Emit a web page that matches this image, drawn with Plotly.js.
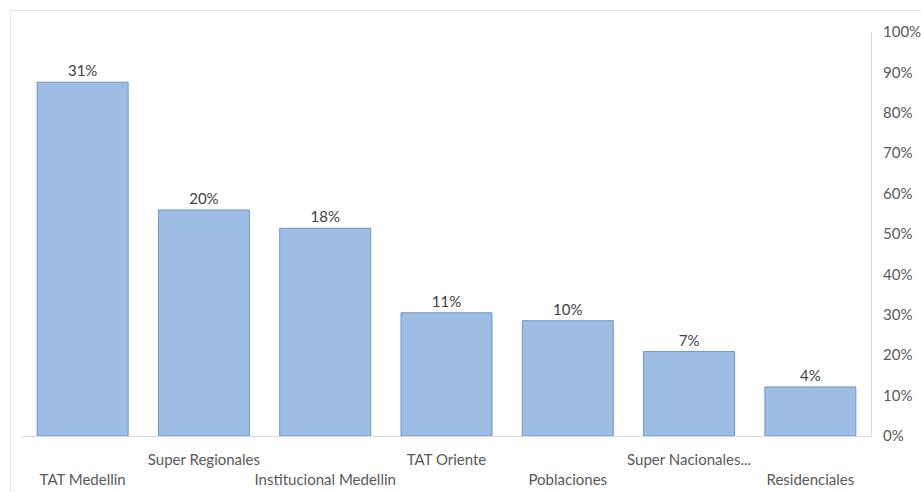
<!DOCTYPE html>
<html>
<head>
<meta charset="utf-8">
<script src="https://cdn.plot.ly/plotly-3.0.1.min.js"></script>
<style>
  html, body { margin: 0; padding: 0; background: #ffffff; }
  #wrap { position: relative; width: 921px; height: 492px; overflow: hidden; }
  #frame { position: absolute; left: 10px; top: 10px; width: 1000px; height: 600px;
           border-top: 1px solid #e3e3e3; border-left: 1px solid #e3e3e3; }
  #chart { position: absolute; left: 0; top: 0; width: 921px; height: 492px; }
</style>
</head>
<body>
<div id="wrap">
  <div id="frame"></div>
  <div id="chart"></div>
</div>
<script>
const categories = ["TAT Medellin", "Super Regionales", "Institucional Medellin", "TAT Oriente", "Poblaciones", "Super Nacionales...", "Residenciales"];
const shares = [0.310, 0.198, 0.182, 0.108, 0.101, 0.074, 0.043];
const rightTicks = [0, 0.1, 0.2, 0.3, 0.4, 0.5, 0.6, 0.7, 0.8, 0.9, 1.0];

// staggered category labels (every other one drops to a second row)
const tickLabels = categories.map((c, i) => (i % 2 === 0 ? " <br>" + c : c));

const fontFam = "Lato, 'Open Sans', sans-serif";

const trace = {
  type: "bar",
  x: categories,
  y: shares,
  marker: { color: "#9dbde5", line: { color: "#6f96c8", width: 1 } },
  texttemplate: "%{y:.0%}",
  textposition: "outside",
  textfont: { family: fontFam, size: 15, color: "#404040" },
  cliponaxis: false,
  hoverinfo: "skip",
  showlegend: false
};

const layout = {
  width: 921,
  height: 492,
  margin: { l: 22, r: 50, t: 32, b: 56 },
  paper_bgcolor: "rgba(0,0,0,0)",
  plot_bgcolor: "rgba(0,0,0,0)",
  bargap: 0.25,
  font: { family: fontFam, size: 15, color: "#595959" },
  xaxis: {
    type: "category",
    tickmode: "array",
    tickvals: categories,
    ticktext: tickLabels,
    tickangle: 0,
    showline: true,
    linecolor: "#d9d9d9",
    linewidth: 1,
    ticks: "outside",
    ticklen: 10,
    tickcolor: "rgba(0,0,0,0)",
    tickfont: { family: fontFam, size: 15, color: "#595959" },
    showgrid: false,
    zeroline: false,
    fixedrange: true
  },
  yaxis: {
    range: [0, 0.354],
    visible: false,
    showgrid: false,
    zeroline: false,
    fixedrange: true
  },
  yaxis2: {
    overlaying: "y",
    side: "right",
    range: [0, 1],
    tickmode: "array",
    tickvals: rightTicks,
    tickformat: ".0%",
    showline: true,
    linecolor: "#d9d9d9",
    linewidth: 1,
    ticks: "outside",
    ticklen: 8,
    tickcolor: "rgba(0,0,0,0)",
    tickfont: { family: fontFam, size: 15, color: "#595959" },
    showgrid: false,
    zeroline: false,
    fixedrange: true
  }
};

// invisible helper so that the right axis is drawn
const axisHelper = {
  type: "scatter",
  x: [categories[0]],
  y: [0],
  yaxis: "y2",
  mode: "markers",
  marker: { opacity: 0 },
  hoverinfo: "skip",
  showlegend: false
};

Plotly.newPlot("chart", [trace, axisHelper], layout, { staticPlot: true, displayModeBar: false });
</script>
</body>
</html>
